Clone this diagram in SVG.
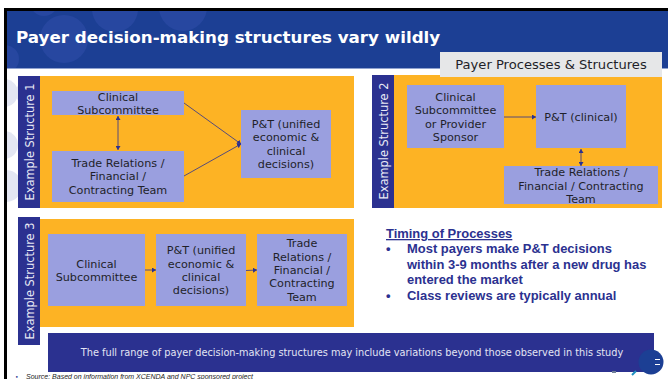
<svg xmlns="http://www.w3.org/2000/svg" width="668" height="379" viewBox="0 0 668 379">
<defs>
<marker id="a" markerWidth="5" markerHeight="5" refX="4" refY="2.5" orient="auto-start-reverse" markerUnits="userSpaceOnUse"><path d="M0 0L4 2.5L0 5Z" fill="#2b3190"/></marker>
<clipPath id="hc"><rect x="7" y="11" width="661" height="57"/></clipPath>
<clipPath id="lc"><rect x="7" y="69" width="40" height="300"/></clipPath>
</defs>
<style>
text{font-family:"DejaVu Sans",Verdana,sans-serif}
.b{fill:#9a9fdf}.o{fill:#fdb324}.l{fill:#2b3190}
.t{font-size:11.2px;fill:#1f1f2a;text-anchor:middle}
.v{font-size:11.4px;fill:#e8e9f5;text-anchor:middle}
.c{stroke:#2b3190;stroke-width:.8;fill:none}
.m{font-family:"Liberation Sans",Arial,sans-serif;font-weight:bold;font-size:12.95px;fill:#2b3190}
</style>
<rect width="668" height="379" fill="#fff"/>
<g id="frame">
<rect x="7" y="11" width="661" height="57" fill="#1c3f94"/>
<rect x="7" y="68" width="661" height="1" fill="#8fa2cf"/>
<g fill="#2747a0" clip-path="url(#hc)">
<circle cx="44" cy="2" r="14"/><circle cx="115" cy="9" r="23"/><circle cx="183" cy="7" r="24"/><circle cx="64" cy="39" r="24"/><circle cx="5" cy="59" r="14"/>
</g>
<g fill="#e4e7f3" clip-path="url(#lc)">
<circle cx="32" cy="93" r="16"/><circle cx="4" cy="93" r="14"/><circle cx="4" cy="145" r="14"/><circle cx="6" cy="186" r="16"/>
</g>
<rect x="4" y="8" width="664" height="3" fill="#000"/>
<rect x="4" y="8" width="3" height="371" fill="#000"/>
<text x="16" y="43" font-size="16.7" font-weight="bold" fill="#fff">Payer decision-making structures vary wildly</text>
</g>
<g id="structure-1">
<rect class="o" x="40" y="76" width="314" height="132"/>
<rect class="l" x="18" y="76" width="22" height="132"/>
<text class="v" transform="translate(34 142) rotate(-90)">Example Structure 1</text>
</g>
<g id="s1-clinical"><rect class="b" x="52" y="91" width="132" height="24"/>
<text class="t" x="118" y="101">Clinical</text><text class="t" x="118" y="114">Subcommittee</text></g>
<g id="s1-trade"><rect class="b" x="52" y="151" width="132" height="51"/>
<text class="t" x="118" y="167">Trade Relations /</text><text class="t" x="118" y="180">Financial /</text><text class="t" x="118" y="194">Contracting Team</text></g>
<g id="s1-pt"><rect class="b" x="241" y="110" width="90" height="68"/>
<text class="t" x="286" y="128">P&amp;T (unified</text><text class="t" x="286" y="141">economic &amp;</text><text class="t" x="286" y="155">clinical</text><text class="t" x="286" y="168">decisions)</text></g>
<g id="structure-2">
<rect class="o" x="394" y="75" width="268" height="133"/>
<rect class="l" x="372" y="75" width="22" height="133"/>
<text class="v" transform="translate(388 141) rotate(-90)">Example Structure 2</text>
</g>
<g id="tab"><rect x="440" y="52" width="222" height="25" fill="#e6e7e8"/>
<text x="551" y="69" font-size="13.1" fill="#1f1f2a" text-anchor="middle">Payer Processes &amp; Structures</text></g>
<g id="s2-clinical"><rect class="b" x="407" y="85" width="97" height="63"/>
<text class="t" x="455.500" y="101">Clinical</text><text class="t" x="455.500" y="114">Subcommittee</text><text class="t" x="455.500" y="128">or Provider</text><text class="t" x="455.500" y="141">Sponsor</text></g>
<g id="s2-pt"><rect class="b" x="536" y="85" width="90" height="63"/>
<text class="t" x="581" y="121">P&amp;T (clinical)</text></g>
<g id="s2-trade"><rect class="b" x="504" y="166" width="154" height="38"/>
<text class="t" x="581" y="176">Trade Relations /</text><text class="t" x="581" y="190">Financial / Contracting</text><text class="t" x="581" y="203">Team</text></g>
<g id="structure-3">
<rect class="o" x="40" y="219" width="314" height="108"/>
<rect class="l" x="18" y="217" width="22" height="128"/>
<text class="v" transform="translate(34 281) rotate(-90)">Example Structure 3</text>
</g>
<g id="s3-clinical"><rect class="b" x="48" y="234" width="97" height="72"/>
<text class="t" x="96.500" y="268">Clinical</text><text class="t" x="96.500" y="281">Subcommittee</text></g>
<g id="s3-pt"><rect class="b" x="156" y="234" width="90" height="72"/>
<text class="t" x="201" y="254">P&amp;T (unified</text><text class="t" x="201" y="268">economic &amp;</text><text class="t" x="201" y="281">clinical</text><text class="t" x="201" y="294">decisions)</text></g>
<g id="s3-trade"><rect class="b" x="257" y="234" width="90" height="72"/>
<text class="t" x="302" y="247">Trade</text><text class="t" x="302" y="261">Relations /</text><text class="t" x="302" y="274">Financial /</text><text class="t" x="302" y="287">Contracting</text><text class="t" x="302" y="301">Team</text></g>
<g id="connectors">
<path class="c" d="M118 116V150" marker-start="url(#a)" marker-end="url(#a)"/>
<path class="c" d="M184 103L241 144" marker-end="url(#a)"/>
<path class="c" d="M184 176L241 144" marker-end="url(#a)"/>
<path class="c" d="M504 117H536" marker-end="url(#a)"/>
<path class="c" d="M581 149V166" marker-start="url(#a)" marker-end="url(#a)"/>
<path class="c" d="M145 270H156" marker-end="url(#a)"/>
<path class="c" d="M246 270.500L257 270" marker-end="url(#a)"/>
</g>
<g id="timing">
<text class="m" x="386" y="238" text-decoration="underline">Timing of Processes</text>
<text class="m" x="386" y="253">•</text>
<text class="m" x="407" y="253">Most payers make P&amp;T decisions</text>
<text class="m" x="407" y="269">within 3-9 months after a new drug has</text>
<text class="m" x="407" y="284">entered the market</text>
<text class="m" x="386" y="300">•</text>
<text class="m" x="407" y="300">Class reviews are typically annual</text>
</g>
<g id="note"><rect class="l" x="48" y="333" width="606" height="39"/>
<text x="352" y="356" font-size="9.77" fill="#e3e5f4" text-anchor="middle">The full range of payer decision-making structures may include variations beyond those observed in this study</text></g>
<g id="logo">
<circle cx="651" cy="362" r="12.500" fill="#1c3f94"/>
<rect x="655" y="359" width="5" height="1" fill="#fff"/><rect x="655" y="364" width="5" height="1" fill="#fff"/>
<path d="M632 375L636 371" stroke="#1d8fc0" stroke-width="2" fill="none"/>
<rect x="612" y="371" width="4" height="2" fill="#6f7f99"/>
</g>
<g id="source">
<text x="15" y="379" font-size="6" fill="#2b3190">•</text>
<text x="26" y="379" font-size="7" font-style="italic" fill="#222" style="font-family:'Liberation Sans',Arial,sans-serif">Source: Based on information from XCENDA and NPC sponsored project</text>
</g>
</svg>
